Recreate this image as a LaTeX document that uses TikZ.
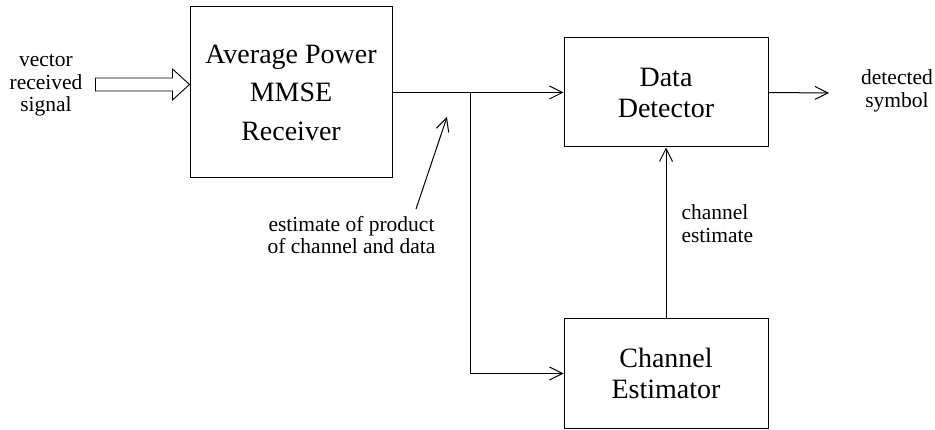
\documentclass[tikz,border=0pt]{standalone}
\usepackage{fontspec}
\setmainfont{Liberation Serif}
\usetikzlibrary{arrows.meta,calc}
\begin{document}
\begin{tikzpicture}[x=1pt,y=-1pt,line width=1pt,
  blk/.style={draw,rectangle,inner sep=0pt,align=center,font=\fontsize{28}{31}\selectfont},
  lbl/.style={inner sep=0pt,font=\fontsize{21.5}{22.5}\selectfont},
  arr/.style={-{Straight Barb[length=13pt,width=13pt]}}]
\fill[white] (0,0) rectangle (935,430);
\useasboundingbox (0,0) rectangle (935,430);
% blocks
\node[blk,minimum width=202pt,minimum height=171pt,font=\fontsize{28}{38.5}\selectfont] (rx) at (291,92.5) {Average Power\\MMSE\\Receiver};
\node[blk,minimum width=204pt,minimum height=109pt] (dd) at (666,92.5) {Data\\Detector};
\node[blk,minimum width=204pt,minimum height=109pt] (ce) at (666,373.5) {Channel\\Estimator};
% labels
\node[lbl,align=center] (vin) at (46,85.5) {vector\\received\\signal};
\node[lbl,align=center] (ann) at (351.5,235) {estimate of product\\of channel and data};
\node[lbl,align=left,anchor=west] (chest) at (681,223.5) {channel\\estimate};
\node[lbl,align=center] (dsym) at (897,91) {detected\\symbol};
% hollow input arrow
\draw[line width=0.9pt,shift={($(rx.west)+(0,-8)$)}]
  (-94,-6.5) -- (-17,-6.5) -- (-17,-15.5) -- (0,0) -- (-17,15.5) -- (-17,6.5) -- (-94,6.5) -- cycle;
% connectors
\coordinate (j) at (470,93);
\coordinate (out) at (829,93);
\coordinate (annt) at (416,209);
\coordinate (annh) at (447,117);
\draw[arr] (rx.east) -- (dd.west);
\draw[arr] (j) |- (ce.west);
\draw[arr] (ce.north) -- (dd.south);
\draw[arr] (dd.east) -- (out);
\draw[arr] (annt) -- (annh);
\end{tikzpicture}
\end{document}
